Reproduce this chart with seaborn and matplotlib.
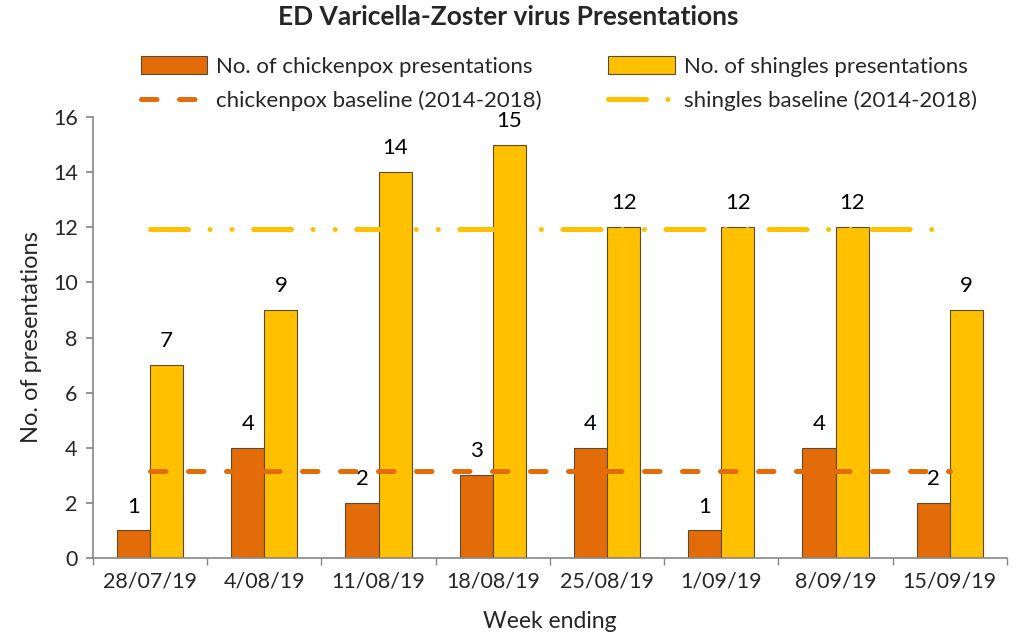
import numpy as np
import pandas as pd
import seaborn as sns
import matplotlib.pyplot as plt
from matplotlib.lines import Line2D
from matplotlib.patches import Patch

# data
weeks = ['28/07/19', '4/08/19', '11/08/19', '18/08/19',
         '25/08/19', '1/09/19', '8/09/19', '15/09/19']
chickenpox = [1, 4, 2, 3, 4, 1, 4, 2]
shingles = [7, 9, 14, 15, 12, 12, 12, 9]
chickenpox_baseline = [3.15] * 8
shingles_baseline = [11.95] * 8

pox_name = 'No. of chickenpox presentations'
shi_name = 'No. of shingles presentations'
pox_col = '#E36C09'
shi_col = '#FFC000'

df = pd.DataFrame({'week': weeks * 2,
                   'count': chickenpox + shingles,
                   'series': [pox_name] * 8 + [shi_name] * 8})

sns.set_theme(style="ticks")
plt.rcParams['font.family'] = ['Lato', 'DejaVu Sans']

fig = plt.figure(figsize=(10.16, 6.38), dpi=100)
ax = fig.add_axes([0.0915, 0.1254, 0.8995, 0.6912])

sns.barplot(data=df, x='week', y='count', hue='series',
            palette=[pox_col, shi_col], saturation=1, width=0.58, gap=0,
            edgecolor='#594a30', linewidth=0.8, legend=False, ax=ax)

for cont in ax.containers:
    ax.bar_label(cont, fmt='%d', padding=10, fontsize=16, color='black')

xpos = np.arange(len(weeks))
ax.plot(xpos, chickenpox_baseline, color=pox_col, lw=3.6,
        linestyle=(0, (3.1, 4.5)), dash_capstyle='round', zorder=5)
ax.plot(xpos, shingles_baseline, color=shi_col, lw=3.6,
        linestyle=(0, (7.6, 4.3, 0.01, 4.4, 0.01, 4.3)),
        dash_capstyle='round', zorder=5)

ax.set_ylim(0, 16)
ax.set_yticks(range(0, 17, 2))
ax.set_xlim(-0.5, len(weeks) - 0.5)
ax.set_xticks(xpos, weeks)
ax.set_xticks(np.arange(-0.5, len(weeks)), minor=True)
ax.tick_params(axis='x', which='major', length=0, pad=10, labelsize=15.5)
ax.tick_params(axis='x', which='minor', length=5, color='#868686', direction='out')
ax.tick_params(axis='y', length=5, color='#868686', labelsize=15.5, pad=6)

for s in ['top', 'right']:
    ax.spines[s].set_visible(False)
for s in ['left', 'bottom']:
    ax.spines[s].set_color('#868686')
    ax.spines[s].set_linewidth(1.2)

ax.set_xlabel('Week ending', fontsize=16.5, labelpad=14)
ax.set_ylabel('No. of presentations', fontsize=17, labelpad=8)

fig.suptitle('ED Varicella-Zoster virus Presentations', fontsize=19,
             fontweight='bold', x=0.5, y=0.992)

handles = [Patch(facecolor=pox_col, edgecolor='#594a30', lw=0.8),
           Line2D([], [], color=pox_col, lw=3.6, linestyle=(0, (3.1, 4.5)),
                  dash_capstyle='round'),
           Patch(facecolor=shi_col, edgecolor='#594a30', lw=0.8),
           Line2D([], [], color=shi_col, lw=3.6,
                  linestyle=(0, (7.6, 4.3, 0.01, 4.4)), dash_capstyle='round')]
labels = [pox_name, 'chickenpox baseline (2014-2018)',
          shi_name, 'shingles baseline (2014-2018)']
fig.legend(handles, labels, ncol=2, frameon=False, fontsize=16,
           loc='center', bbox_to_anchor=(0.55, 0.869),
           handlelength=3.0, handleheight=0.9, handletextpad=0.4,
           columnspacing=3.0, labelspacing=0.62)

fig.savefig('out.png', dpi=100)
